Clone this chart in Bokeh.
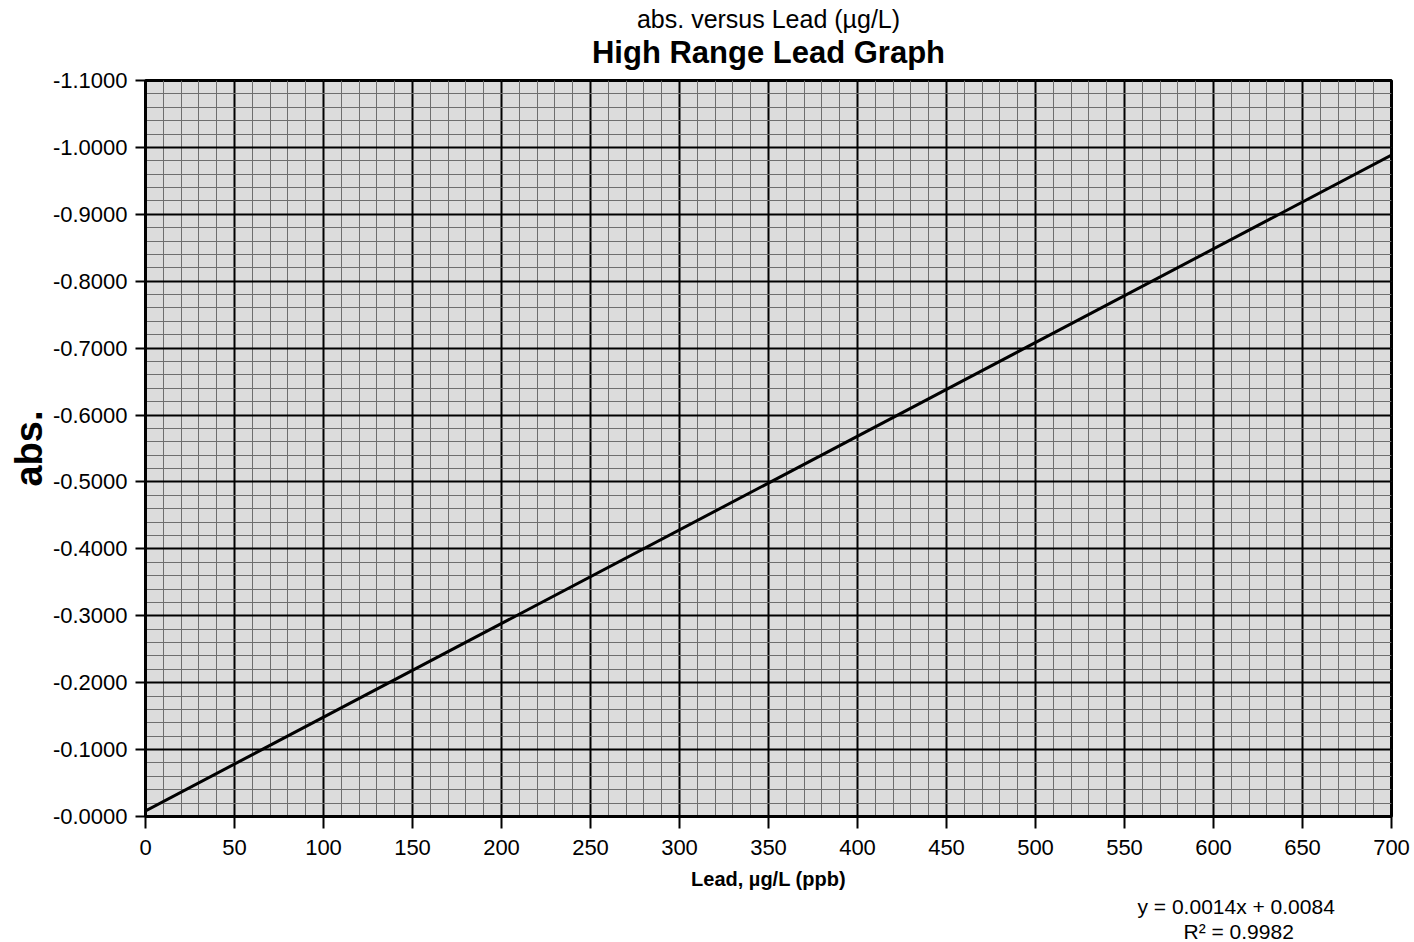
from bokeh.plotting import figure
from bokeh.models import Range1d, FixedTicker, Title
from bokeh.embed import file_html
from bokeh.resources import INLINE

# ---- data ----
x_ticks = [0, 50, 100, 150, 200, 250, 300, 350, 400, 450, 500, 550, 600, 650, 700]
x_minor = list(range(0, 701, 10))
y_ticks = [0.0, -0.1, -0.2, -0.3, -0.4, -0.5, -0.6, -0.7, -0.8, -0.9, -1.0, -1.1]
y_tick_labels = ["-0.0000", "-0.1000", "-0.2000", "-0.3000", "-0.4000", "-0.5000",
                 "-0.6000", "-0.7000", "-0.8000", "-0.9000", "-1.0000", "-1.1000"]
y_minor = [round(-0.02 * i, 2) for i in range(56)]
line_x = [0, 700]
line_y = [-0.0084, -0.9884]
equation = "y = 0.0014x + 0.0084"
r_squared = "R² = 0.9982"
title_main = "High Range Lead Graph"
title_sub = "abs. versus Lead (µg/L)"
x_label = "Lead, µg/L (ppb)"
y_label = "abs."

FONT = "Liberation Sans"

p = figure(width=1414, height=942, output_backend="svg", toolbar_location=None,
           x_range=Range1d(0, 700), y_range=Range1d(0, -1.1),
           min_border_left=145, min_border_right=23, min_border_top=80, min_border_bottom=126,
           background_fill_color="#dcdcdc", border_fill_color="white")
p.title = None

# small spacer between frame and the main title
p.add_layout(Title(text=" ", align="center", text_font=FONT, text_font_size="8px", standoff=0), "above")
p.add_layout(Title(text=title_main, align="center", text_font=FONT, text_font_size="31px",
                   text_font_style="bold", text_color="black", standoff=0), "above")
p.add_layout(Title(text=title_sub, align="center", text_font=FONT, text_font_size="25px",
                   text_font_style="normal", text_color="black", standoff=0), "above")

p.outline_line_color = "black"
p.outline_line_width = 3

p.xaxis.ticker = FixedTicker(ticks=x_ticks, minor_ticks=x_minor)
p.yaxis.ticker = FixedTicker(ticks=y_ticks, minor_ticks=y_minor)
p.yaxis.major_label_overrides = {t: s for t, s in zip(y_ticks, y_tick_labels)}

for ax in (p.xaxis, p.yaxis):
    ax.axis_line_color = "black"
    ax.axis_line_width = 3
    ax.major_tick_line_color = "black"
    ax.major_tick_line_width = 2
    ax.major_tick_in = 0
    ax.major_tick_out = 12
    ax.minor_tick_line_color = None
    ax.major_label_text_font = FONT
    ax.major_label_text_font_size = "22px"
    ax.major_label_text_color = "black"
    ax.axis_label_text_font = FONT
    ax.axis_label_text_font_style = "bold"
    ax.axis_label_text_color = "black"

p.xaxis.axis_label = x_label
p.xaxis.axis_label_text_font_size = "20px"
p.xaxis.major_label_standoff = 11
p.xaxis.axis_label_standoff = 10
p.yaxis.axis_label = y_label
p.yaxis.axis_label_text_font_size = "38px"
p.yaxis.major_tick_out = 10
p.yaxis.major_label_standoff = 8
p.yaxis.axis_label_standoff = 0

for g in (p.xgrid, p.ygrid):
    g.grid_line_color = "black"
    g.grid_line_width = 2
    g.grid_line_alpha = 1.0
    g.minor_grid_line_color = "#6e6e6e"
    g.minor_grid_line_width = 1

p.line(line_x, line_y, line_color="black", line_width=3)

# regression note below the axis, right side
p.add_layout(Title(text=equation, align="left", offset=992, text_font=FONT, text_font_size="21px",
                   text_font_style="normal", text_color="black", standoff=0), "below")
p.add_layout(Title(text=r_squared, align="left", offset=1038, text_font=FONT, text_font_size="21px",
                   text_font_style="normal", text_color="black", standoff=0), "below")

open("out.html", "w").write(file_html(p, INLINE))
